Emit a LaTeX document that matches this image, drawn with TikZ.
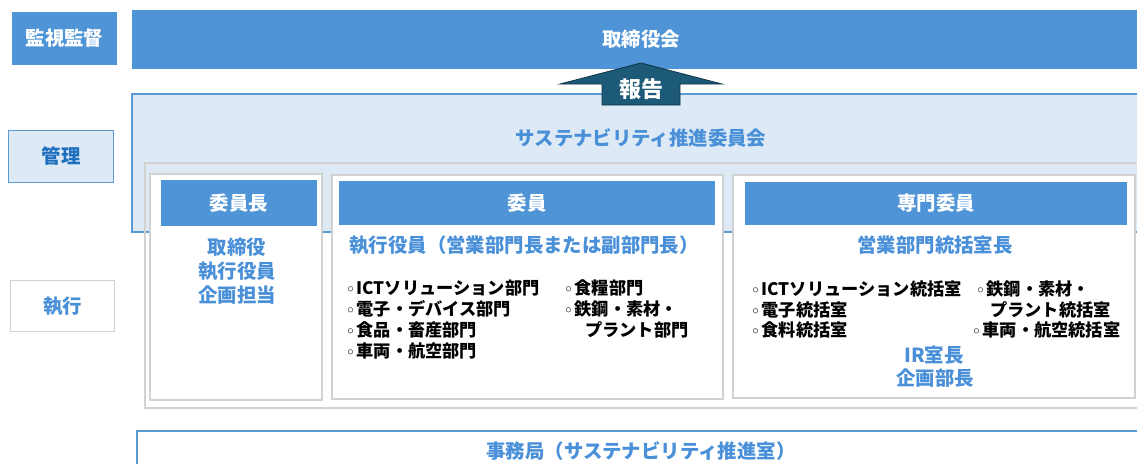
\documentclass[tikz,border=0pt]{standalone}
\usepackage{fontspec}
\setmainfont{Noto Sans CJK JP}
\newfontfamily\dv{DejaVu Sans}
\definecolor{hdrblue}{HTML}{4F94D7}
\definecolor{lightreg}{HTML}{DDEAF6}
\definecolor{regborder}{HTML}{5B9BD5}
\definecolor{txtblue}{HTML}{4A90D9}
\definecolor{darkblue}{HTML}{1F6FBF}
\definecolor{grayline}{HTML}{D2D2D2}
\definecolor{arrowfill}{HTML}{1D5A78}
\definecolor{arrowline}{HTML}{0F3347}
\tikzset{
  hdrbox/.style={fill=hdrblue, draw=none, inner sep=0pt, text=white, font=\fontsize{19.4}{23}\selectfont\bfseries},
  panelbox/.style={fill=white, draw=grayline, line width=1.6pt, inner sep=0pt},
  bluehead/.style={text=txtblue, inner sep=0pt, font=\fontsize{19.4}{23}\selectfont\bfseries},
  item/.style={anchor=west, inner sep=0pt, text=black, font=\fontsize{17.2}{20}\selectfont\bfseries},
}
\newcommand{\bul}{{\dv\fontsize{14}{16}\selectfont ◦}\hspace{1.5pt}}
\begin{document}
\begin{tikzpicture}[x=1pt,y=-1pt]
\useasboundingbox (0,0) rectangle (1137,463);
% left labels
\node[hdrbox, minimum width=105pt, minimum height=53pt] (kanshi) at (64.5,38.5) {監視監督};
\node[fill=lightreg, draw=regborder, line width=1.5pt, inner sep=0pt, minimum width=105pt, minimum height=52pt, text=darkblue, font=\fontsize{19.4}{23}\selectfont\bfseries] (kanri) at (61,156.5) {管理};
\node[fill=white, draw=grayline, line width=1.5pt, inner sep=0pt, minimum width=104pt, minimum height=51pt, text=txtblue, font=\fontsize{19.4}{23}\selectfont\bfseries] (shikko) at (62.5,306) {執行};
% board bar
\node[hdrbox, minimum width=1018pt, minimum height=59pt] (board) at (641,39.5) {取締役会};
% sustainability region
\node[fill=lightreg, draw=regborder, line width=1.2pt, inner sep=0pt, minimum width=1018pt, minimum height=138pt] (region) at (641,163) {};
\node[bluehead] (susttitle) at (641,138) {サステナビリティ推進委員会};
% outer frame
\draw[grayline, line width=1.5pt] (145,163) rectangle (1160,408);
% panels
\node[panelbox, minimum width=172pt, minimum height=226pt] (p1) at (236,287) {};
\node[panelbox, minimum width=391pt, minimum height=224pt] (p2) at (527.5,287) {};
\node[panelbox, minimum width=402pt, minimum height=223pt] (p3) at (934,286.5) {};
% headers
\node[hdrbox, minimum width=156pt, minimum height=46pt] (h1) at (239,203) {委員長};
\node[hdrbox, minimum width=376pt, minimum height=44pt] (h2) at (527,203) {委員};
\node[hdrbox, minimum width=382pt, minimum height=43pt] (h3) at (936,203.5) {専門委員};
% panel 1
\node[bluehead, align=center, font=\fontsize{19.4}{24}\selectfont\bfseries] (chair) at (237,271) {取締役\\執行役員\\企画担当};
% panel 2
\node[bluehead] (p2title) at (524,245) {執行役員（営業部門長または副部門長）};
\node[item] (a1) at (346,288) {\bul ICTソリューション部門};
\node[item] (a2) at (346,309) {\bul 電子・デバイス部門};
\node[item] (a3) at (346,330) {\bul 食品・畜産部門};
\node[item] (a4) at (346,351) {\bul 車両・航空部門};
\node[item] (a5) at (564,288) {\bul 食糧部門};
\node[item] (a6) at (564,309) {\bul 鉄鋼・素材・};
\node[item] (a7) at (585,330) {プラント部門};
% panel 3
\node[bluehead] (p3title) at (935,245) {営業部門統括室長};
\node[item] (b1) at (751,289) {\bul ICTソリューション統括室};
\node[item] (b2) at (751,310) {\bul 電子統括室};
\node[item] (b3) at (751,330) {\bul 食料統括室};
\node[item] (b4) at (976,289) {\bul 鉄鋼・素材・};
\node[item] (b5) at (990,310) {プラント統括室};
\node[item] (b6) at (972,330) {\bul 車両・航空統括室};
\node[bluehead] (ir) at (934,355) {IR室長};
\node[bluehead] (kikaku) at (935,378) {企画部長};
% secretariat
\node[fill=white, draw=regborder, line width=1.5pt, inner sep=0pt, minimum width=1014pt, minimum height=50pt, anchor=north west] (secbox) at (136,430) {};
\node[bluehead] (sectext) at (641,451) {事務局（サステナビリティ推進室）};
% report arrow
\draw[fill=arrowfill, draw=arrowline, line width=0.8pt] (641,63) -- (722,84) -- (680,84) -- (680,105) -- (602,105) -- (602,84) -- (560,84) -- cycle;
\node[text=white, inner sep=0pt, font=\fontsize{22}{26}\selectfont\bfseries] (report) at (641,89) {報告};
\end{tikzpicture}
\end{document}
